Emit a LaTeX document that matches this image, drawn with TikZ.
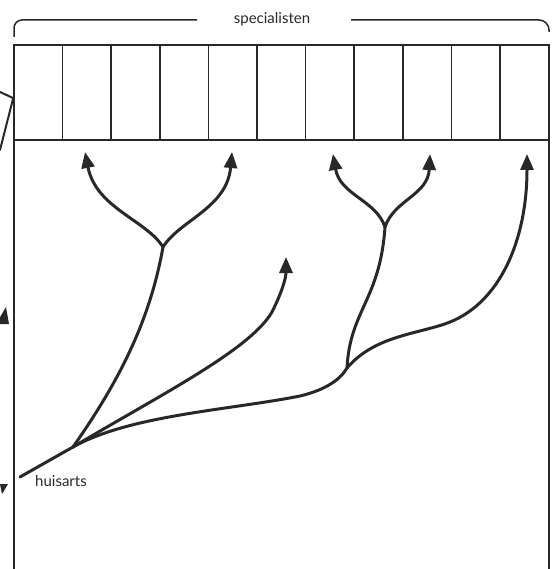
\documentclass[tikz,border=0pt]{standalone}
\usepackage{fontspec}
\setmainfont{Lato}
\usetikzlibrary{arrows.meta}
\definecolor{ink}{RGB}{40,40,40}
\begin{document}
\begin{tikzpicture}[x=1pt,y=-1pt,
  frame/.style={draw=ink,line width=1.9pt},
  cell/.style={draw=ink,line width=1.5pt},
  flow/.style={draw=ink,line width=3pt,line cap=round},
  flowarrow/.style={flow,-{Triangle[length=16pt,width=13pt]}},
  lbl/.style={text=ink,font=\fontsize{15}{17}\selectfont,inner sep=1pt}]
\useasboundingbox (0,0) rectangle (551,569);
% bracket
\coordinate (bl) at (14,37);
\coordinate (br) at (549,32);
\node[lbl] (spec) at (272,19) {specialisten};
\draw[draw=ink,line width=1.5pt,rounded corners=8pt] (bl) -- (14,20) -- (197,20);
\draw[draw=ink,line width=1.5pt,rounded corners=10pt] (351,20) -- (549,20) -- (br);
% frame
\draw[frame] (14,569) -- (14,45) -- (549,45) -- (549,569);
\draw[frame] (14,140) -- (549,140);
\foreach \i in {1,...,10} {
  \draw[cell] ({14+\i*48.6},45) -- ({14+\i*48.6},140);
}
% fragments of neighbouring picture
\draw[flow,line width=2pt] (0,92) -- (13,98);
\draw[flow,line width=2pt] (13,99) -- (0,150);
\fill[ink] (6,307) -- (-4,324) -- (9,324) -- cycle;
\fill[ink] (0,484) -- (8,484) -- (2,494) -- cycle;
% tree
\coordinate (start) at (20,477);
\coordinate (fan) at (73,447);
\coordinate (forkA) at (163,247);
\coordinate (junc) at (347,368);
\coordinate (forkD) at (385,227);
\coordinate (t1) at (85,152);
\coordinate (t2) at (232,152);
\coordinate (t3) at (286,257);
\coordinate (t4) at (333,154);
\coordinate (t5) at (430,154);
\coordinate (t6) at (527,154);
\draw[flow] (start) -- (fan);
\draw[flow] (fan) .. controls (120,380) and (150,320) .. (forkA);
\draw[flowarrow] (forkA) .. controls (146,220) and (96,208) .. (t1);
\draw[flowarrow] (forkA) .. controls (180,220) and (227,208) .. (t2);
\draw[flowarrow] (fan) .. controls (160,395) and (250,350) .. (272,312) .. controls (282,292) and (286,278) .. (t3);
\draw[flow] (fan) .. controls (130,415) and (230,410) .. (300,396) .. controls (325,390) and (340,380) .. (junc);
\draw[flow] (junc) .. controls (350,310) and (380,300) .. (forkD);
\draw[flowarrow] (forkD) .. controls (376,200) and (340,195) .. (t4);
\draw[flowarrow] (forkD) .. controls (394,200) and (428,195) .. (t5);
\draw[flowarrow] (junc) .. controls (375,335) and (420,334) .. (450,322) .. controls (500,302) and (527,240) .. (t6);
\node[lbl,anchor=base west] (huis) at (34,486) {huisarts};
\end{tikzpicture}
\end{document}
